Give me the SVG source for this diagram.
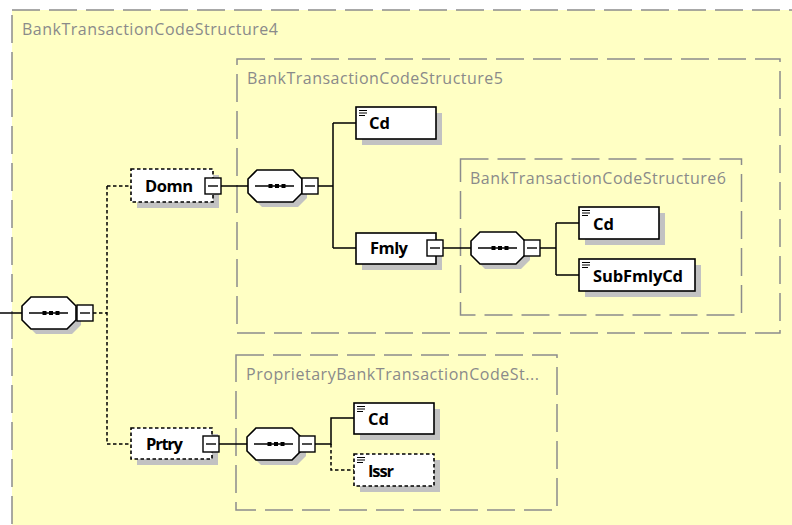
<svg xmlns="http://www.w3.org/2000/svg" width="792" height="525" viewBox="0 0 792 525">
<style>
.grp{fill:none;stroke:#8c8c8c;stroke-width:1.5;stroke-dasharray:28 9}
.gt{font-family:"Open Sans","Liberation Sans",sans-serif;font-size:16px;fill:#8a8a8a}
.el{fill:#fff;stroke:#000;stroke-width:1.6}
.opt{stroke-dasharray:3.5 2.5}
.sh{fill:#c2c2c2}
.et{font-family:"Open Sans","Liberation Sans",sans-serif;font-size:16.5px;font-weight:700;fill:#000}
.cn{fill:none;stroke:#000;stroke-width:1.5}
.dc{fill:none;stroke:#000;stroke-width:1.5;stroke-dasharray:3.5 2.5}
.ic{stroke:#000;stroke-width:1}
</style>
<defs>
<path id="oct" d="M9,0 H45 L54,9 V23 L45,32 H9 L0,23 V9 Z"/>
<g id="minus"><rect x="0" y="0" width="16" height="16" fill="#fff" stroke="#000" stroke-width="1.4"/><line x1="3" y1="8" x2="13" y2="8" stroke="#000" stroke-width="1.4"/></g>
<g id="seq">
<use href="#oct" transform="translate(5,5)" class="sh"/>
<use href="#oct" fill="#fff" stroke="#000" stroke-width="1.6"/>
<line x1="7" y1="16" x2="46" y2="16" stroke="#000" stroke-width="1.4"/>
<rect x="20.5" y="14" width="4" height="4" fill="#000"/>
<rect x="27" y="14" width="4" height="4" fill="#000"/>
<rect x="33.5" y="14" width="4" height="4" fill="#000"/>
</g>
<g id="doc"><line x1="3" y1="3.5" x2="11" y2="3.5" class="ic"/><line x1="3" y1="6" x2="11" y2="6" class="ic"/><line x1="3" y1="8.5" x2="9" y2="8.5" class="ic"/></g>
</defs>
<rect width="792" height="525" fill="#fff"/>
<rect x="12" y="10" width="800" height="530" fill="#ffffc4"/>
<g id="groups">
<rect x="12" y="10" width="800" height="530" class="grp"/>
<text x="22" y="35" class="gt" textLength="256">BankTransactionCodeStructure4</text>
<rect x="237" y="59" width="543" height="274" class="grp"/>
<text x="247" y="84" class="gt" textLength="256">BankTransactionCodeStructure5</text>
<rect x="460.5" y="159" width="281" height="156" class="grp"/>
<text x="470" y="184" class="gt" textLength="256">BankTransactionCodeStructure6</text>
<rect x="236" y="355" width="321" height="155" class="grp"/>
<text x="246" y="380" class="gt" textLength="293">ProprietaryBankTransactionCodeSt...</text>
</g>
<g id="connectors">
<line x1="0" y1="313" x2="22" y2="313" class="cn"/>
<path d="M93,313 H107 M107,186 V444 M107,186 H131 M107,444 H131" class="dc"/>
<line x1="221" y1="186" x2="248" y2="186" class="cn"/>
<path d="M318,186 H333 M333,123 V248 M333,123 H356 M333,248 H356" class="cn"/>
<line x1="443" y1="248" x2="471" y2="248" class="cn"/>
<path d="M540,248 H556 M556,223 V275 M556,223 H579 M556,275 H579" class="cn"/>
<line x1="219" y1="444" x2="247" y2="444" class="cn"/>
<path d="M315,444 H331 V418 H354" class="cn"/>
<path d="M331,444 V470 H354" class="dc"/>
</g>
<g id="root-seq"><use href="#seq" x="22" y="297"/><use href="#minus" x="77" y="305"/></g>
<g id="Domn">
<rect x="137" y="175" width="82" height="33" class="sh"/>
<rect x="131" y="169" width="82" height="33" class="el opt"/>
<text x="145" y="192" class="et" textLength="48">Domn</text>
<use href="#minus" x="205" y="178"/>
</g>
<g id="seq5"><use href="#seq" x="248" y="170"/><use href="#minus" x="302" y="178"/></g>
<g id="Cd5">
<rect x="362" y="113" width="80" height="32" class="sh"/>
<rect x="356" y="107" width="80" height="32" class="el"/>
<use href="#doc" x="356" y="107"/>
<text x="369" y="129" class="et" textLength="21">Cd</text>
</g>
<g id="Fmly">
<rect x="362" y="239" width="80" height="31" class="sh"/>
<rect x="356" y="233" width="80" height="31" class="el"/>
<text x="370" y="254" class="et" textLength="38">Fmly</text>
<use href="#minus" x="427" y="240"/>
</g>
<g id="seq6"><use href="#seq" x="471" y="232"/><use href="#minus" x="524" y="240"/></g>
<g id="Cd6">
<rect x="585" y="213" width="80" height="32" class="sh"/>
<rect x="579" y="207" width="80" height="32" class="el"/>
<use href="#doc" x="579" y="207"/>
<text x="593" y="230" class="et" textLength="21">Cd</text>
</g>
<g id="SubFmlyCd">
<rect x="585" y="265" width="116" height="32" class="sh"/>
<rect x="579" y="259" width="116" height="32" class="el"/>
<use href="#doc" x="579" y="259"/>
<text x="593" y="282" class="et" textLength="90">SubFmlyCd</text>
</g>
<g id="Prtry">
<rect x="137" y="434" width="81" height="31" class="sh"/>
<rect x="131" y="428" width="81" height="31" class="el opt"/>
<text x="146" y="450" class="et" textLength="37">Prtry</text>
<use href="#minus" x="203" y="436"/>
</g>
<g id="seqP"><use href="#seq" x="247" y="428"/><use href="#minus" x="299" y="436"/></g>
<g id="CdP">
<rect x="360" y="409" width="80" height="31" class="sh"/>
<rect x="354" y="403" width="80" height="31" class="el"/>
<use href="#doc" x="354" y="403"/>
<text x="368" y="425" class="et" textLength="21">Cd</text>
</g>
<g id="Issr">
<rect x="360" y="460" width="80" height="32" class="sh"/>
<rect x="354" y="454" width="80" height="32" class="el opt"/>
<use href="#doc" x="354" y="454"/>
<text x="368" y="477" class="et" textLength="26">Issr</text>
</g>
</svg>
